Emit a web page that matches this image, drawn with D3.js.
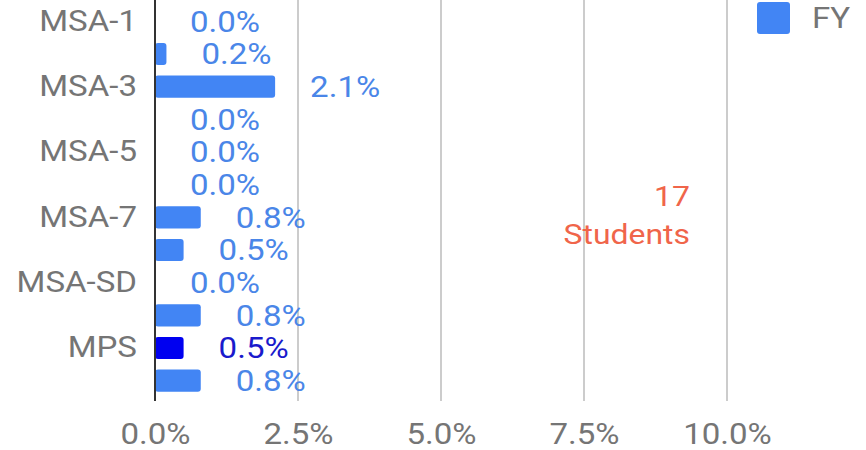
<!DOCTYPE html>
<html>
<script src="https://d3js.org/d3.v7.min.js"></script>
<style>
body {margin:0; background:#fff;}
text {font-family: Roboto, "Noto Sans", sans-serif;}
</style>
<body>
<svg width=866 height=450></svg>
<script>
    // rows, top to bottom; only every other name is shown on the axis
    const categories = ["MSA-1", "MSA-2", "MSA-3", "MSA-4", "MSA-5", "MSA-6",
                        "MSA-7", "MSA-8", "MSA-SD", "MSA-10", "MPS", "MSA-12"];
    const shownLabels = ["MSA-1", "MSA-3", "MSA-5", "MSA-7", "MSA-SD", "MPS"];
    const values = [0.0, 0.2, 2.1, 0.0, 0.0, 0.0, 0.8, 0.5, 0.0, 0.8, 0.5, 0.8];
    const highlight = "MPS";
    const xTicks = [0, 2.5, 5, 7.5, 10];
    const seriesName = "FY";
    const note = ["17", "Students"];

    const svg = d3.select("svg");
    const blue = "#4285f4", dark = "#0000f0";
    const sx = 1.14; // text in the picture is a bit wider than plain Roboto

    // move x/y into a transform so the glyphs can be widened in place
    function widen(sel) {
        sel.each(function() {
            const t = d3.select(this);
            const px = +t.attr("x") || 0, py = +t.attr("y") || 0;
            t.attr("x", 0).attr("y", 0)
             .attr("transform", `translate(${px},${py}) scale(${sx},1)`);
        });
    }

    const x = d3.scaleLinear().domain([0, 10]).range([155, 727]);
    const y = d3.scaleBand().domain(categories).range([5, 397]).paddingInner(0.32).paddingOuter(0.16);

    // gridlines
    svg.append("g").selectAll("line")
        .data(xTicks.slice(1))
        .enter().append("line")
        .attr("x1", d => x(d)).attr("x2", d => x(d))
        .attr("y1", 0).attr("y2", 401)
        .attr("stroke", "#cccccc").attr("stroke-width", 2);

    // bars
    svg.append("g").selectAll("rect")
        .data(categories)
        .enter().append("rect")
        .attr("x", x(0))
        .attr("y", d => y(d))
        .attr("width", (d, i) => x(values[i]) - x(0))
        .attr("height", y.bandwidth())
        .attr("rx", 3)
        .attr("fill", d => d === highlight ? dark : blue);

    // value labels
    svg.append("g").selectAll("text")
        .data(categories)
        .enter().append("text")
        .attr("x", (d, i) => x(values[i]) + 35)
        .attr("y", d => y(d) + y.bandwidth() / 2)
        .attr("dy", "0.36em")
        .attr("font-size", 29)
        .attr("fill", d => d === highlight ? "#1a1acc" : "#4a86e8")
        .text((d, i) => d3.format(".1f")(values[i]) + "%")
        .call(widen);

    // baseline
    svg.append("line")
        .attr("x1", x(0)).attr("x2", x(0))
        .attr("y1", 0).attr("y2", 401)
        .attr("stroke", "#333").attr("stroke-width", 2);

    // y axis labels
    const yAxis = d3.axisLeft(y)
        .tickValues(shownLabels)
        .tickSize(0).tickPadding(18);
    const ya = svg.append("g").attr("transform", `translate(${x(0)},0)`).call(yAxis);
    ya.select(".domain").remove();
    ya.selectAll("text").attr("font-size", 29).attr("fill", "#757575")
        .attr("font-family", "Roboto, sans-serif")
        .call(widen);

    // x axis labels
    const xAxis = d3.axisBottom(x)
        .tickValues(xTicks)
        .tickFormat(d => d3.format(".1f")(d) + "%")
        .tickSize(0).tickPadding(0);
    const xa = svg.append("g").attr("transform", "translate(0,423)").call(xAxis);
    xa.select(".domain").remove();
    xa.selectAll("text").attr("font-size", 29).attr("fill", "#757575")
        .attr("font-family", "Roboto, sans-serif")
        .call(widen);

    // annotation
    svg.append("g").selectAll("text")
        .data(note).enter().append("text")
        .attr("x", 690).attr("y", (d, i) => 196 + i * 38)
        .attr("dy", "0.36em")
        .attr("text-anchor", "end")
        .attr("font-size", 28).attr("fill", "#f0654a")
        .text(d => d)
        .call(widen);

    // legend
    svg.append("rect")
        .attr("x", 757).attr("y", 2).attr("width", 33).attr("height", 32)
        .attr("rx", 3).attr("fill", blue);
    svg.append("text")
        .attr("x", 812).attr("y", 18).attr("dy", "0.36em")
        .attr("font-size", 29).attr("fill", "#757575")
        .text(seriesName)
        .call(widen);
</script>
</body>
</html>
